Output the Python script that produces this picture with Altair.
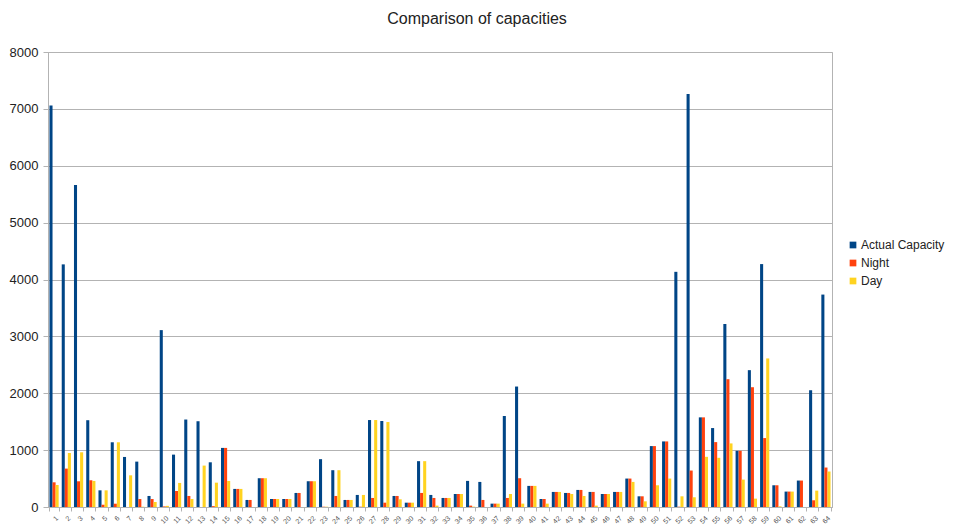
import altair as alt
import pandas as pd

categories = [str(i) for i in range(1, 65)]
series_names = ["Actual Capacity", "Night", "Day"]

actual = [7060, 4266, 5663, 1526, 293, 1138, 880, 798, 194, 3110,
          921, 1538, 1508, 786, 1039, 318, 124, 506, 141, 141,
          247, 453, 841, 647, 124, 212, 1529, 1512, 194, 76,
          806, 212, 159, 229, 459, 441, 59, 1600, 2118, 371,
          141, 265, 247, 300, 265, 229, 265, 500, 188, 1071,
          1153, 4135, 7260, 1576, 1388, 3218, 988, 2406, 4271, 382,
          271, 465, 2053, 3735]
night = [434, 675, 452, 470, 40, 58, 0, 140, 140, 10,
         282, 194, 0, 15, 1039, 318, 124, 506, 141, 141,
         247, 453, 5, 194, 124, 5, 159, 76, 194, 76,
         247, 159, 159, 229, 24, 124, 59, 159, 506, 371,
         141, 265, 247, 300, 265, 229, 265, 500, 188, 1071,
         1153, 5, 641, 1576, 1141, 2247, 988, 2106, 1212, 382,
         271, 465, 118, 694]
day = [387, 950, 962, 458, 293, 1138, 557, 5, 88, 20,
       423, 140, 728, 428, 458, 318, 0, 506, 141, 141,
       0, 453, 5, 647, 124, 212, 1529, 1494, 135, 76,
       806, 24, 159, 229, 6, 0, 59, 229, 59, 371,
       59, 265, 229, 194, 24, 229, 265, 441, 100, 382,
       500, 188, 171, 882, 865, 1118, 482, 147, 2612, 12,
       271, 0, 288, 624]

colors = ["#004586", "#ff420e", "#ffd320"]

rows = []
for i, c in enumerate(categories):
    for s, vals in zip(series_names, [actual, night, day]):
        rows.append({"cat": c, "series": s, "value": vals[i]})
df = pd.DataFrame(rows)

FONT = "Liberation Sans"

chart = alt.Chart(df).mark_bar().encode(
    x=alt.X("cat:N", sort=categories, title=None,
            scale=alt.Scale(paddingInner=0.25, paddingOuter=0.12),
            axis=alt.Axis(labelAngle=-45, labelFontSize=7, labelColor="#555555",
                          tickBand="extent", tickSize=4, tickColor="#b3b3b3",
                          domainColor="#b3b3b3", labelPadding=3, labelFont=FONT)),
    xOffset=alt.XOffset("series:N", sort=series_names),
    y=alt.Y("value:Q", title=None,
            scale=alt.Scale(domain=[0, 8000], nice=False),
            axis=alt.Axis(values=list(range(0, 8001, 1000)), format="d",
                          labelFontSize=13, labelColor="#222222",
                          tickSize=5, tickColor="#b3b3b3", labelPadding=5,
                          gridColor="#b3b3b3", domainColor="#b3b3b3", labelFont=FONT)),
    color=alt.Color("series:N", sort=series_names,
                    scale=alt.Scale(domain=series_names, range=colors),
                    legend=alt.Legend(title=None, orient="none", legendX=799, legendY=187,
                                      symbolType="square", symbolSize=45,
                                      labelFontSize=12, labelFont=FONT, labelColor="#222222",
                                      rowPadding=6, symbolStrokeWidth=0, labelOffset=2,
                                      padding=0, labelLimit=200)),
).properties(
    width=784,
    height=455,
    title=alt.Title("Comparison of capacities", fontSize=16, font=FONT,
                    fontWeight="normal", color="#222222", anchor="middle",
                    frame="bounds", offset=19),
    padding={"left": 40, "top": 44, "right": 115, "bottom": 20},
    autosize=alt.AutoSizeParams(type="none"),
).configure_view(stroke="#b3b3b3")

chart.save("out.html", embed_options={"renderer": "svg", "actions": False})
